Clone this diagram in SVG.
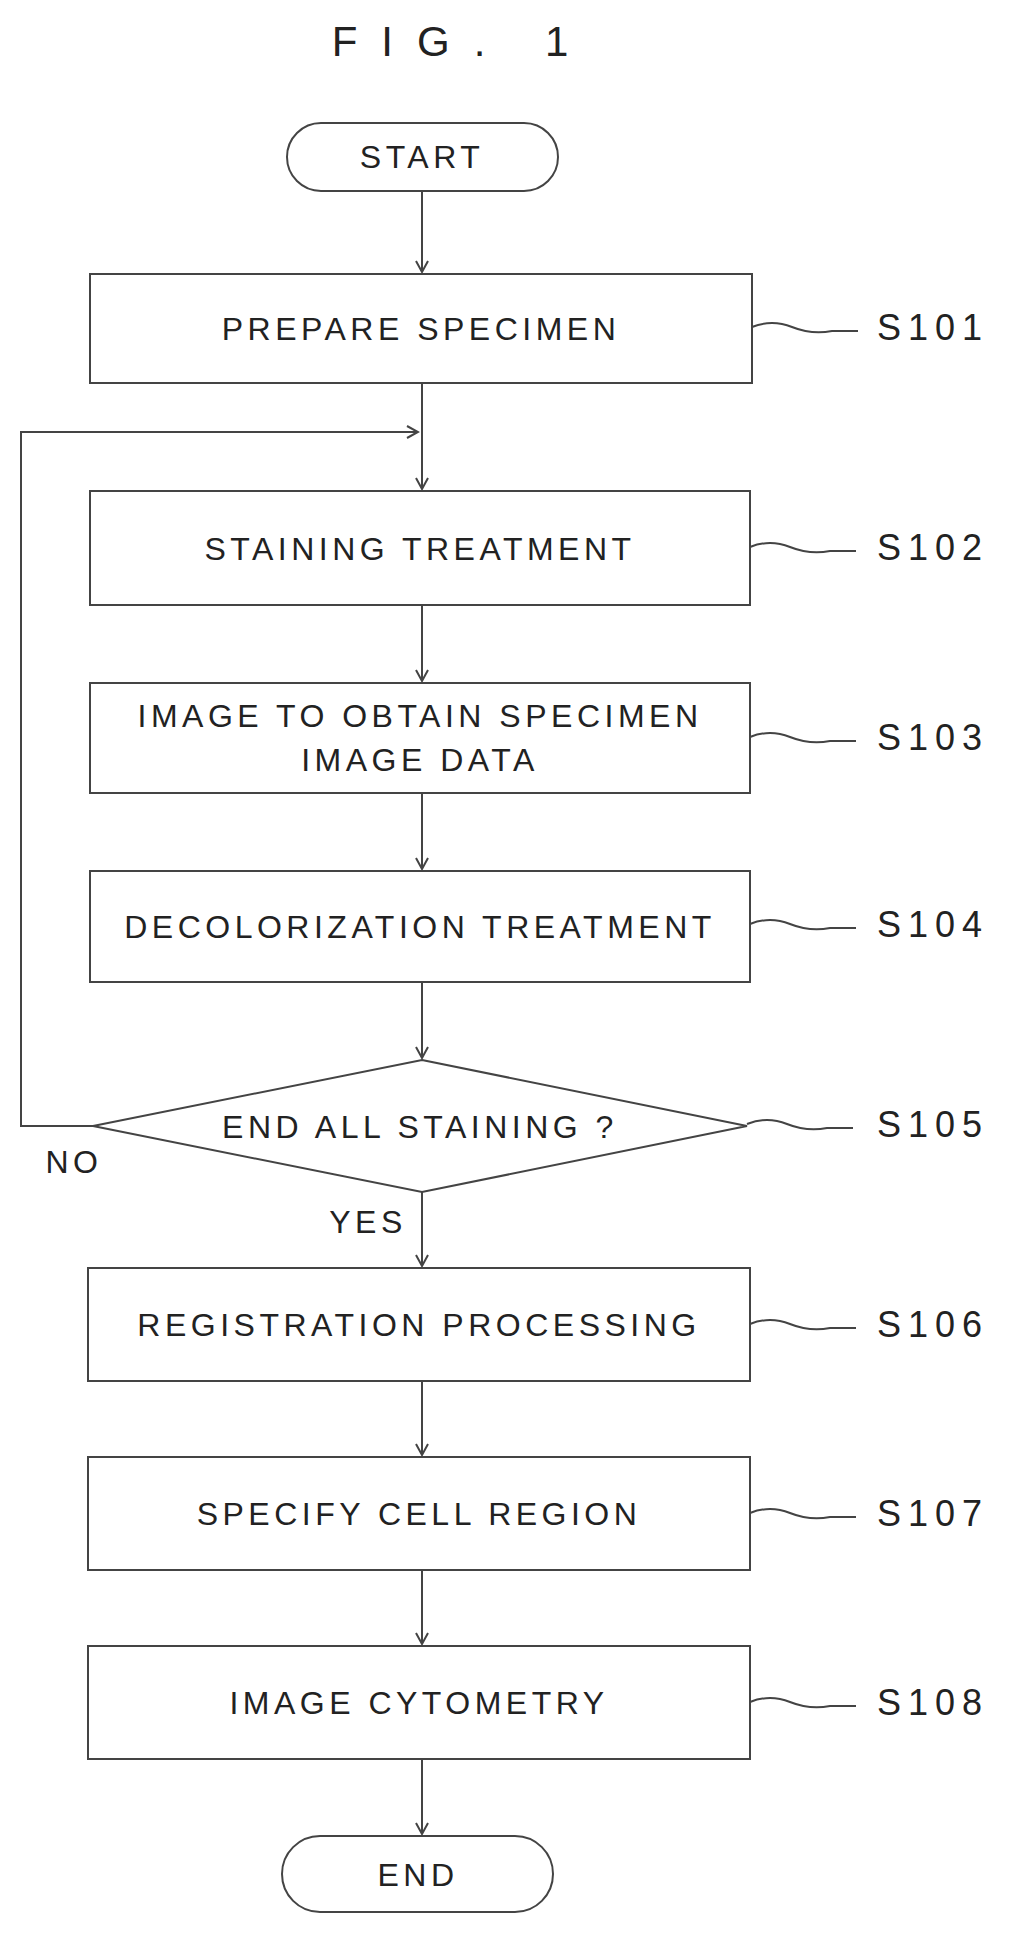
<svg xmlns="http://www.w3.org/2000/svg" width="1014" height="1939" viewBox="0 0 1014 1939">
<style>
.b{fill:#fff;stroke:#444;stroke-width:2}
.t{font-family:"Liberation Sans",Arial,sans-serif;font-size:32px;fill:#222;text-anchor:middle;letter-spacing:4.5px}
.l{font-family:"Liberation Sans",Arial,sans-serif;font-size:36px;fill:#222;letter-spacing:7px}
.c{fill:none;stroke:#444;stroke-width:2}
</style>
<defs><marker id="a" markerWidth="14" markerHeight="14" refX="12" refY="7" orient="auto" markerUnits="userSpaceOnUse"><path d="M1,1 L12,7 L1,13" fill="none" stroke="#444" stroke-width="2"/></marker></defs>
<rect width="1014" height="1939" fill="#fff"/>
<text x="462" y="56" class="l" text-anchor="middle" style="font-size:42px;letter-spacing:24px">FIG. 1</text>
<g id="connectors" class="c">
<line x1="422" y1="191" x2="422" y2="272" marker-end="url(#a)"/>
<line x1="422" y1="383" x2="422" y2="489" marker-end="url(#a)"/>
<line x1="422" y1="605" x2="422" y2="681" marker-end="url(#a)"/>
<line x1="422" y1="793" x2="422" y2="869" marker-end="url(#a)"/>
<line x1="422" y1="982" x2="422" y2="1058" marker-end="url(#a)"/>
<line x1="422" y1="1192" x2="422" y2="1266" marker-end="url(#a)"/>
<line x1="422" y1="1381" x2="422" y2="1455" marker-end="url(#a)"/>
<line x1="422" y1="1570" x2="422" y2="1644" marker-end="url(#a)"/>
<line x1="422" y1="1759" x2="422" y2="1834" marker-end="url(#a)"/>
<polyline points="93,1126 21,1126 21,432 418,432" marker-end="url(#a)"/>
<path d="M752,327 q20,-8 40,0 t40,4 h26"/>
<path d="M750,547 q20,-8 40,0 t40,4 h26"/>
<path d="M750,737 q20,-8 40,0 t40,4 h26"/>
<path d="M750,924 q20,-8 40,0 t40,4 h26"/>
<path d="M747,1124 q20,-8 40,0 t40,4 h26"/>
<path d="M750,1324 q20,-8 40,0 t40,4 h26"/>
<path d="M750,1513 q20,-8 40,0 t40,4 h26"/>
<path d="M750,1702 q20,-8 40,0 t40,4 h26"/>
</g>
<g id="start"><rect class="b" x="287" y="123" width="271" height="68" rx="34"/><text class="t" x="422" y="168">START</text></g>
<g id="s101"><rect class="b" x="90" y="274" width="662" height="109"/><text class="t" x="421" y="340">PREPARE SPECIMEN</text><text class="l" x="877" y="340">S101</text></g>
<g id="s102"><rect class="b" x="90" y="491" width="660" height="114"/><text class="t" x="420" y="560">STAINING TREATMENT</text><text class="l" x="877" y="560">S102</text></g>
<g id="s103"><rect class="b" x="90" y="683" width="660" height="110"/><text class="t" x="420" y="727">IMAGE TO OBTAIN SPECIMEN</text><text class="t" x="420" y="771">IMAGE DATA</text><text class="l" x="877" y="750">S103</text></g>
<g id="s104"><rect class="b" x="90" y="871" width="660" height="111"/><text class="t" x="420" y="938">DECOLORIZATION TREATMENT</text><text class="l" x="877" y="937">S104</text></g>
<g id="s105"><polygon class="b" points="422,1060 747,1126 422,1192 93,1126"/><text class="t" x="420" y="1138">END ALL STAINING ?</text><text class="l" x="877" y="1137">S105</text>
<text class="t" x="74" y="1173">NO</text><text class="t" x="368" y="1233">YES</text></g>
<g id="s106"><rect class="b" x="88" y="1268" width="662" height="113"/><text class="t" x="419" y="1336">REGISTRATION PROCESSING</text><text class="l" x="877" y="1337">S106</text></g>
<g id="s107"><rect class="b" x="88" y="1457" width="662" height="113"/><text class="t" x="419" y="1525">SPECIFY CELL REGION</text><text class="l" x="877" y="1526">S107</text></g>
<g id="s108"><rect class="b" x="88" y="1646" width="662" height="113"/><text class="t" x="419" y="1714">IMAGE CYTOMETRY</text><text class="l" x="877" y="1715">S108</text></g>
<g id="end"><rect class="b" x="282" y="1836" width="271" height="76" rx="38"/><text class="t" x="418" y="1886">END</text></g>
</svg>
